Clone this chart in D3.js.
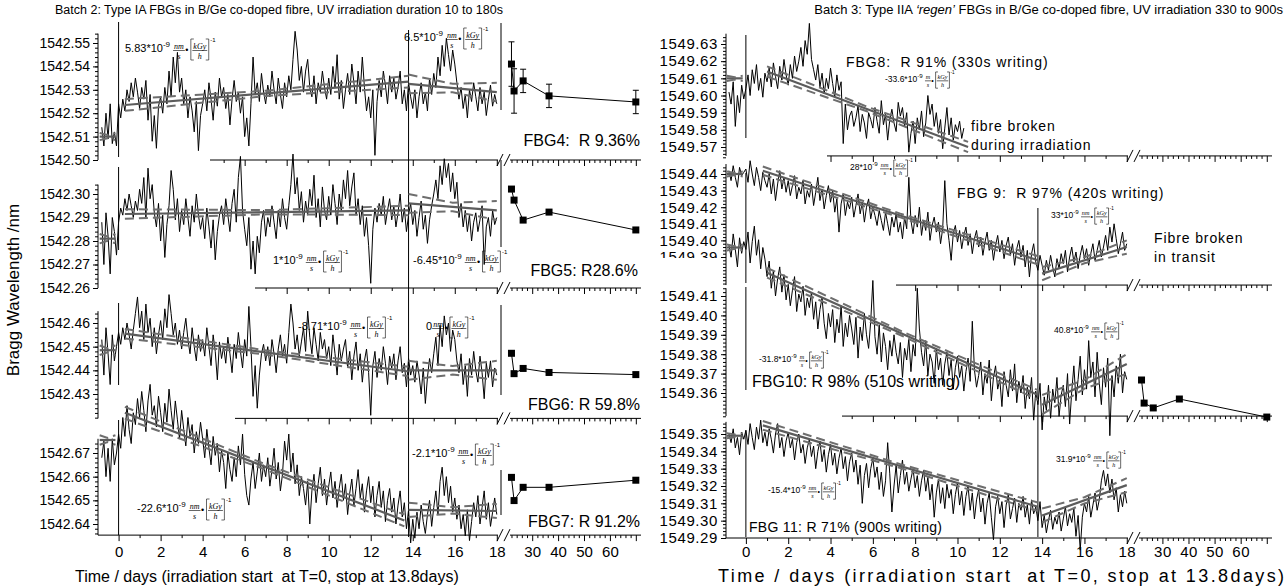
<!DOCTYPE html>
<html>
<head>
<meta charset="utf-8">
<script src="https://cdn.jsdelivr.net/npm/d3@7"></script>
<style>
body { margin: 0; background: #fff; }
svg { display: block; font-family: "Liberation Sans", Arial, sans-serif; }
text { white-space: pre; }
</style>
</head>
<body>
<svg id="chart" width="1288" height="588"></svg>
<script>
// sampling grid (days) shared by all traces
var tDays = [-0.8,-0.7,-0.6,-0.5,-0.4,-0.3,-0.2,-0.1,
0,0.1,0.2,0.3,0.4,0.5,0.6,0.7,0.8,0.9,
1,1.1,1.2,1.3,1.4,1.5,1.6,1.7,1.8,1.9,
2,2.1,2.2,2.3,2.4,2.5,2.6,2.7,2.8,2.9,
3,3.1,3.2,3.3,3.4,3.5,3.6,3.7,3.8,3.9,
4,4.1,4.2,4.3,4.4,4.5,4.6,4.7,4.8,4.9,
5,5.1,5.2,5.3,5.4,5.5,5.6,5.7,5.8,5.9,
6,6.1,6.2,6.3,6.4,6.5,6.6,6.7,6.8,6.9,
7,7.1,7.2,7.3,7.4,7.5,7.6,7.7,7.8,7.9,
8,8.1,8.2,8.3,8.4,8.5,8.6,8.7,8.8,8.9,
9,9.1,9.2,9.3,9.4,9.5,9.6,9.7,9.8,9.9,
10,10.1,10.2,10.3,10.4,10.5,10.6,10.7,10.8,10.9,
11,11.1,11.2,11.3,11.4,11.5,11.6,11.7,11.8,11.9,
12,12.1,12.2,12.3,12.4,12.5,12.6,12.7,12.8,12.9,
13,13.1,13.2,13.3,13.4,13.5,13.6,13.7,13.8,13.9,
14,14.1,14.2,14.3,14.4,14.5,14.6,14.7,14.8,14.9,
15,15.1,15.2,15.3,15.4,15.5,15.6,15.7,15.8,15.9,
16,16.1,16.2,16.3,16.4,16.5,16.6,16.7,16.8,16.9,
17,17.1,17.2,17.3,17.4,17.5,17.6,17.7,17.8,17.9,
18];

// wavelength shifts in pm above each grating's base wavelength
var fbg4 = [14,6,20,9,24,7,12,6,
24,18,26,21,30,25,33,27,35,29, 22,31,26,34,17,28,8,19,5,23,
27,20,31,24,38,27,44,33,46,29, 35,24,30,18,27,21,12,25,4,19,
24,30,21,33,26,17,29,23,35,27, 31,22,28,15,26,34,25,29,20,27,
10,18,6,24,44,28,33,25,37,29, 24,32,27,38,30,24,35,28,22,33,
27,36,30,43,55,47,34,40,29,38, 43,31,27,36,24,33,29,38,31,26,
35,28,40,31,45,26,34,22,30,37, 28,41,33,24,38,29,44,31,21,27,
18,30,2,25,34,27,38,32,24,36, 29,35,26,31,38,24,30,21,33,27,
22,30,18,27,33,24,29,21,35,28, 37,31,44,36,49,40,52,45,38,47,
41,33,26,31,22,28,18,30,25,33, 27,21,31,24,29,19,26,32,23,28, 24];
var fbg5 = [28,10,32,22,6,30,24,14,
28,34,31,38,33,40,35,30,37,33, 42,36,47,30,51,38,44,32,26,36,
20,31,13,27,35,50,42,29,38,24, 33,27,38,30,22,35,28,40,31,25,
30,21,34,26,17,29,12,24,31,35, 27,38,31,24,36,42,28,47,56,33,
25,18,30,8,20,6,22,15,28,33, 22,30,26,35,28,21,33,26,38,30,
25,35,44,57,40,47,33,41,28,37, 31,42,35,48,30,38,26,43,33,29,
39,31,44,36,27,40,33,46,38,50, 35,43,49,31,38,27,35,22,30,18,
2,25,34,28,36,31,39,27,33,38, 29,35,26,32,40,28,34,24,31,36,
27,33,22,30,37,25,31,19,29,35, 40,46,38,52,44,55,47,53,41,49,
38,45,30,36,26,33,24,31,20,28, 32,24,29,35,10,26,30,22,33,27, 30];
var fbg6 = [33,18,38,27,14,35,24,30,
36,31,38,33,40,35,29,37,44,51, 38,45,33,48,36,42,30,38,27,35,
41,33,46,38,52,44,35,40,31,37, 29,36,42,33,27,38,30,24,35,28,
33,26,38,30,22,35,28,16,32,25, 30,23,34,27,19,31,25,36,28,21,
33,26,47,30,9,22,4,18,27,31, 24,30,22,33,27,19,29,35,26,31,
23,36,48,40,29,35,26,32,38,28, 45,34,27,38,31,24,36,29,33,25,
30,22,35,27,18,31,24,29,33,21, 28,16,26,32,20,27,15,24,29,19,
1,22,28,17,25,20,30,23,14,26, 21,27,16,24,30,19,23,13,25,18,
22,15,24,18,10,21,6,17,25,19, 27,34,22,39,30,43,35,40,28,37,
33,24,19,27,14,22,9,25,18,28, 20,15,26,19,8,23,17,24,13,21, 18];
var fbg7 = [38,45,30,42,28,46,35,40,
48,42,55,47,60,50,44,57,52,63, 55,66,58,49,62,69,56,60,51,64,
57,49,61,53,67,58,50,62,54,46, 58,50,43,55,47,52,40,49,44,53,
46,38,50,42,35,47,39,44,32,41, 36,25,40,33,28,38,30,43,35,48,
31,22,18,29,36,25,32,40,28,35, 30,38,26,33,42,29,36,24,31,45,
37,48,32,40,27,35,22,30,25,18, 28,10,24,31,19,27,34,22,29,18,
26,32,21,28,17,25,31,20,27,14, 23,29,18,25,33,21,27,15,24,30,
19,26,13,22,28,17,24,11,20,25, 15,21,10,18,24,13,19,8,16,2,
12,4,15,8,18,11,6,14,20,9, 17,24,14,28,34,22,30,19,26,15,
21,12,18,8,14,5,16,3,11,19, 13,22,10,17,24,12,19,9,15,21, 14];
var fbg8 = [42,35,48,22,40,30,46,38,
44,52,40,55,47,58,43,50,39,53, 48,56,45,59,51,44,57,49,61,52,
46,58,50,63,54,60,68,57,72,64, 82,61,55,49,58,45,53,41,50,44,
56,47,39,52,43,48,12,35,20,28, 31,22,27,34,19,29,24,15,30,26,
21,33,25,18,37,23,29,14,26,32, 24,19,36,28,33,22,30,7,18,25,
12,27,20,31,16,24,40,29,35,22, 30,18,26,9,21,33,17,27,14,23,
19,25,15,21];
var fbg9 = [72,66,75,68,62,74,69,71,
73,65,78,70,63,74,68,60,71,66, 62,70,58,67,54,64,72,61,68,59,
66,57,63,69,55,62,58,66,52,60, 56,64,51,59,68,54,61,49,57,63,
53,60,47,55,35,52,58,45,53,49, 56,44,51,58,46,53,41,50,55,43,
50,45,39,48,42,36,47,40,33,44, 38,46,35,41,31,44,37,68,42,34,
45,38,50,33,42,36,47,30,39,44, 35,41,28,37,66,40,30,18,34,39,
29,36,25,33,38,27,34,22,31,36, 26,32,21,29,35,24,30,18,27,33,
23,30,19,27,32,21,28,15,25,30, 20,27,14,24,8,22,28,17,12,21,
15,9,18,12,21,14,8,19,13,22, 16,24,11,20,26,17,23,13,21,27,
19,25,15,22,28,18,24,30,20,26, 33,24,38,29,40,31,22,28,35,24, 28];
var fbg10 = [86,80,92,84,75,90,82,88,
84,93,77,88,96,81,89,74,85,79, 70,78,64,73,60,69,75,62,71,58,
66,55,63,70,52,61,57,65,50,59, 54,62,48,57,43,53,59,46,38,51,
44,53,36,48,41,55,34,46,39,50, 43,35,49,28,44,37,51,40,33,47,
68,39,30,45,26,41,34,22,37,29, 40,31,25,36,18,33,27,38,21,35,
29,64,43,31,24,37,19,30,26,15, 33,22,28,14,25,31,19,27,12,23,
29,18,24,11,21,28,16,47,22,13, 19,26,9,20,15,27,6,18,24,12,
17,3,21,14,8,22,11,25,5,16, 10,19,2,13,7,18,-4,11,4,15,
-9,8,1,14,-3,12,5,18,-2,9, 14,3,20,-6,11,24,6,17,29,9,
22,12,37,18,26,8,31,15,4,23, 13,28,-12,19,8,24,15,30,10,21, 17];
var fbg11 = [60,55,63,52,58,48,61,57,
62,54,66,58,51,64,57,68,55,61, 53,63,57,49,60,66,52,58,47,56,
61,52,57,45,55,60,49,54,43,52, 57,47,53,40,50,56,44,51,38,48,
54,42,49,37,46,52,40,47,33,44, 49,38,45,31,42,20,36,43,29,40,
46,35,41,28,38,24,33,55,37,15, 30,42,26,36,45,31,38,27,34,40,
29,36,24,33,39,27,35,22,31,12, 26,34,20,29,17,31,23,28,14,25,
32,19,27,13,24,30,16,26,11,22, 28,15,23,8,20,26,12,-1,18,24,
14,21,6,19,25,11,17,23,9,20, 16,24,12,19,8,22,14,18,10,21,
6,13,3,10,16,5,12,8,15,4, 11,18,7,14,9,17,1,13,-7,12,
20,15,24,12,19,26,16,22,33,39, 30,37,26,34,22,29,15,25,18,27, 20];

// later readings after the break (days, pm)
var laterDays = [22, 23, 26.5, 36.5, 70];
var later4 = [41, 29.5, 33.8, 27.4, 24.8];
var later4Err = [9.5, 9.5, 5, 5, 5];
var later5 = [42.1, 37.4, 28.9, 32.3, 24.7];
var later6 = [27.2, 18.6, 20.8, 19.1, 18.2];
var later7 = [29.7, 19.9, 25.5, 25.5, 28.5];
var later10 = [16.7, 4.8, 2.3, 6.9, -2.4];

// linear fits: [tStart, pmStart, tEnd, pmEnd, band]
var fits4 = [[-0.9,10,-0.15,10,1.5],[0.3,23.5,13.8,33.5,2.5],[13.8,32.5,18,29,4]];
var fits5 = [[-0.9,21,-0.15,21,2],[0.3,31.5,13.8,33,2],[13.8,36,18,33,4]];
var fits6 = [[-0.9,28.5,-0.15,28.5,2],[0.3,35.5,13.8,19.5,2],[13.8,20,18,20,4]];
var fits7 = [[-0.9,45.5,-0.15,45.5,2],[0.3,57,13.6,11.5,2.5],[13.8,16,18,15.5,3]];
var fits8 = [[-0.9,50,-0.15,50,1.5],[1.0,54,10.5,10,3]];
var fits9 = [[-0.9,70,-0.15,70,1.5],[0.8,72,13.8,18,2.5],[14,10,18,26,4]];
var fits10 = [[-0.9,85,-0.15,85,1.5],[1.0,72,13.8,9,2.5],[14,4,18,25,5]];
var fits11 = [[-0.9,59,-0.15,59,1.5],[0.8,65,13.8,18,2.5],[14,13,18,30.5,4]];

var mainTicks = [0,2,4,6,8,10,12,14,16,18];
var segTicks = [30,40,50,60];

var svg = d3.select('#chart');

// ---------- layout ----------
var charts = [
  { axisX: 98, x: d3.scaleLinear().domain([-0.98, 18.2]).range([98, 501]),
    seg: d3.scaleLinear().domain([19.5, 72]).range([505, 641]), segFrom: 510, breakX: 500,
    spacing: 0, t0Spans: [[22,157],[167,250],[303,385],[420,535]], stopSpan: [30,537],
    edgeSpans: [[23,110],[160,247],[305,395],[470,515]],
    panels: [
      { vals: fbg4, base: 1542.50, lo: [1542.50,160], hi: [1542.55,43], ticks: [1542.50,1542.51,1542.52,1542.53,1542.54,1542.55], bottom: 1542.50, top: 1542.554, lineFrom: 210, fits: fits4, later: later4, err: later4Err },
      { vals: fbg5, base: 1542.26, lo: [1542.26,288], hi: [1542.30,194], ticks: [1542.26,1542.27,1542.28,1542.29,1542.30], bottom: 1542.26, top: 1542.304, lineFrom: 255, fits: fits5, later: later5 },
      { vals: fbg6, base: 1542.42, lo: [1542.43,394], hi: [1542.46,323], ticks: [1542.43,1542.44,1542.45,1542.46], bottom: 1542.4197, top: 1542.465, lineFrom: 235, fits: fits6, later: later6 },
      { vals: fbg7, base: 1542.63, lo: [1542.64,524], hi: [1542.67,453], ticks: [1542.64,1542.65,1542.66,1542.67], bottom: 1542.6353, top: 1542.676, lineFrom: 98, fits: fits7, later: later7 }
    ] },
  { axisX: 726, x: d3.scaleLinear().domain([-0.94, 18.2]).range([726, 1131]),
    seg: d3.scaleLinear().domain([19.5, 72]).range([1135, 1272]), segFrom: 1139, breakX: 1130,
    spacing: 0.8, t0Spans: [[35,138],[173,283],[287,390],[430,537]], stopSpan: [208,537],
    edgeSpans: [],
    panels: [
      { vals: fbg8, base: 1549.56, lo: [1549.57,147], hi: [1549.63,44], ticks: [1549.57,1549.58,1549.59,1549.60,1549.61,1549.62,1549.63], bottom: 1549.5648, top: 1549.636, lineFrom: 827, fits: fits8 },
      { vals: fbg9, base: 1549.37, lo: [1549.39,257], hi: [1549.44,174], ticks: [1549.39,1549.40,1549.41,1549.42,1549.43,1549.44], bottom: 1549.3731, top: 1549.446, lineFrom: 896, fits: fits9 },
      { vals: fbg10, base: 1549.35, lo: [1549.36,393], hi: [1549.41,296], ticks: [1549.36,1549.37,1549.38,1549.39,1549.40,1549.41], bottom: 1549.3481, top: 1549.414, lineFrom: 842, fits: fits10, later: later10 },
      { vals: fbg11, base: 1549.29, lo: [1549.29,538], hi: [1549.35,434], ticks: [1549.29,1549.30,1549.31,1549.32,1549.33,1549.34,1549.35], bottom: 1549.29, top: 1549.357, lineFrom: 726, fits: fits11 }
    ] }
];

var axesLayer = svg.append('g');
var dataLayer = svg.append('g');
var fitLayer = svg.append('g');
var textLayer = svg.append('g');

charts.forEach(function (c) {
  c.panels.forEach(function (p, pi) {
    var y = d3.scaleLinear().domain([p.lo[0], p.hi[0]]).range([p.lo[1], p.hi[1]]);
    p.y = y;
    var yb = y(p.bottom);
    var isLast = pi === c.panels.length - 1;

    // y axis
    var ga = axesLayer.append('g').attr('transform', 'translate(' + c.axisX + ',0)');
    ga.append('line').attr('y1', yb).attr('y2', y(p.top)).attr('stroke', '#000');
    var minor = d3.range(Math.round(p.bottom * 500) / 500, p.top, 0.002);
    ga.append('g').call(d3.axisLeft(y).tickValues(minor).tickSize(3).tickFormat(''))
      .call(function (g) { g.select('.domain').remove(); });
    var ay = ga.append('g').call(d3.axisLeft(y).tickValues(p.ticks).tickSize(5).tickFormat(d3.format('.2f')))
      .call(function (g) { g.select('.domain').remove(); });
    ay.selectAll('text').attr('font-size', c.spacing ? 15 : 14).attr('letter-spacing', c.spacing ? 0.6 : 0)
      .attr('font-family', '"Liberation Sans", Arial, sans-serif').attr('fill', '#000');

    // bottom axis (main part)
    var gx = axesLayer.append('g').attr('transform', 'translate(0,' + yb + ')');
    gx.append('line').attr('x1', p.lineFrom).attr('x2', c.breakX - 2).attr('stroke', '#000');
    gx.append('line').attr('x1', c.segFrom).attr('x2', c.seg.range()[1]).attr('stroke', '#000');
    var majorT = mainTicks.filter(function (t) { return c.x(t) >= p.lineFrom; });
    var minorT = d3.range(-1, 19, 1).filter(function (t) { return t % 2 !== 0 && c.x(t) >= p.lineFrom && c.x(t) < c.breakX; });
    gx.append('g').call(d3.axisBottom(c.x).tickValues(minorT).tickSize(3).tickFormat(''))
      .call(function (g) { g.select('.domain').remove(); });
    var axMain = gx.append('g').call(d3.axisBottom(c.x).tickValues(majorT).tickSize(6)
      .tickFormat(isLast ? d3.format('d') : ''))
      .call(function (g) { g.select('.domain').remove(); });
    var segMinor = d3.range(20, 72, 2).filter(function (t) { return t % 10 !== 0; });
    gx.append('g').call(d3.axisBottom(c.seg).tickValues(segMinor).tickSize(3).tickFormat(''))
      .call(function (g) { g.select('.domain').remove(); });
    var axSeg = gx.append('g').call(d3.axisBottom(c.seg).tickValues(segTicks.concat([70])).tickSize(6)
      .tickFormat(function (d) { return isLast && d < 70 ? d : ''; }))
      .call(function (g) { g.select('.domain').remove(); });
    [axMain, axSeg].forEach(function (a) {
      a.selectAll('text').attr('font-size', 15).attr('dy', 0).attr('y', 557 - yb)
        .attr('letter-spacing', c.spacing ? 0.5 : 0)
        .attr('font-family', '"Liberation Sans", Arial, sans-serif').attr('fill', '#000');
    });
    // break marks
    [0, 7].forEach(function (dx) {
      gx.append('line').attr('x1', c.breakX - 3 + dx).attr('y1', 6).attr('x2', c.breakX + 3 + dx).attr('y2', -6)
        .attr('stroke', '#000').attr('stroke-width', 1);
    });

    // irradiation start marker
    var s0 = c.t0Spans[pi];
    axesLayer.append('line').attr('x1', c.x(0)).attr('x2', c.x(0)).attr('y1', s0[0]).attr('y2', s0[1]).attr('stroke', '#000');
    if (c.edgeSpans[pi]) {
      var se = c.edgeSpans[pi];
      axesLayer.append('line').attr('x1', c.x(18.2)).attr('x2', c.x(18.2)).attr('y1', se[0]).attr('y2', se[1]).attr('stroke', '#000');
    }

    // trace
    var pts = p.vals.map(function (v, i) { return [tDays[i], p.base + v / 1000]; });
    dataLayer.append('path').datum(pts)
      .attr('d', d3.line().x(function (d) { return c.x(d[0]); }).y(function (d) { return y(d[1]); }))
      .attr('fill', 'none').attr('stroke', '#000').attr('stroke-width', 1);

    // fits with dashed confidence band
    p.fits.forEach(function (f) {
      var P = function (t, v) { return [c.x(t), y(p.base + v / 1000)]; };
      var tm = (f[0] + f[2]) / 2, vm = (f[1] + f[3]) / 2;
      fitLayer.append('path').attr('d', d3.line()([P(f[0], f[1]), P(f[2], f[3])]))
        .attr('fill', 'none').attr('stroke', '#5c5c5c').attr('stroke-width', 2.2);
      [1, -1].forEach(function (s) {
        fitLayer.append('path')
          .attr('d', d3.line()([P(f[0], f[1] + s * f[4]), P(tm, vm + s * f[4] * 0.45), P(f[2], f[3] + s * f[4])]))
          .attr('fill', 'none').attr('stroke', '#6e6e6e').attr('stroke-width', 2).attr('stroke-dasharray', '9,5');
      });
    });

    // later readings
    if (p.later) {
      var lp = laterDays.map(function (d, i) { return [d, p.base + p.later[i] / 1000]; });
      dataLayer.append('path').datum(lp)
        .attr('d', d3.line().x(function (d) { return c.seg(d[0]); }).y(function (d) { return y(d[1]); }))
        .attr('fill', 'none').attr('stroke', '#000').attr('stroke-width', 1);
      if (p.err) {
        lp.forEach(function (d, i) {
          var e = p.err[i] / 1000, xx = c.seg(d[0]);
          dataLayer.append('path')
            .attr('d', 'M' + (xx - 3) + ',' + y(d[1] + e) + 'H' + (xx + 3) + 'M' + xx + ',' + y(d[1] + e) +
              'V' + y(d[1] - e) + 'M' + (xx - 3) + ',' + y(d[1] - e) + 'H' + (xx + 3))
            .attr('fill', 'none').attr('stroke', '#000');
        });
      }
      dataLayer.selectAll(null).data(lp).enter().append('rect')
        .attr('x', function (d) { return c.seg(d[0]) - 3.5; })
        .attr('y', function (d) { return y(d[1]) - 3.5; })
        .attr('width', 7).attr('height', 7).attr('fill', '#000');
    }
  });
  // irradiation stop marker
  axesLayer.append('line').attr('x1', c.x(13.8)).attr('x2', c.x(13.8))
    .attr('y1', c.stopSpan[0]).attr('y2', c.stopSpan[1]).attr('stroke', '#000');
});

// half-hidden tick label on the right chart
textLayer.append('rect').attr('x', 640).attr('y', 258).attr('width', 80).attr('height', 9).attr('fill', '#fff');

// ---------- annotations ----------
function frac(g, x, y, n, d, k) {
  var a = g.append('text').attr('font-family', '"Liberation Serif", serif').attr('font-style', 'italic')
    .attr('font-size', 8 * k).attr('y', y - 3.5 * k).text(n);
  var b = g.append('text').attr('font-family', '"Liberation Serif", serif').attr('font-style', 'italic')
    .attr('font-size', 8 * k).attr('y', y + 6.5 * k).text(d);
  var wa = a.node().getComputedTextLength(), wb = b.node().getComputedTextLength();
  var w = Math.max(wa, wb) + 2 * k;
  a.attr('x', x + (w - wa) / 2);
  b.attr('x', x + (w - wb) / 2);
  g.append('line').attr('x1', x).attr('x2', x + w).attr('y1', y - 1.5 * k).attr('y2', y - 1.5 * k)
    .attr('stroke', '#000').attr('stroke-width', 0.6);
  return x + w;
}

function rate(x, y, lead, exp, unit, fs) {
  var k = fs / 11;
  var g = textLayer.append('g');
  var a = g.append('text').attr('x', x).attr('y', y).attr('font-size', fs).text(lead);
  var cx = x + a.node().getComputedTextLength();
  if (exp) {
    var e = g.append('text').attr('x', cx).attr('y', y - 5 * k).attr('font-size', 8 * k).text(exp);
    cx += e.node().getComputedTextLength() + 3 * k;
  }
  cx = frac(g, cx, y, unit, 's', k);
  g.append('text').attr('x', cx + 0.5 * k).attr('y', y + 1 * k).attr('font-size', 9 * k).text('\u2022');
  cx += 6 * k;
  var top = y - 13 * k, bot = y + 8 * k;
  g.append('path').attr('d', 'M' + (cx + 3 * k) + ',' + top + 'H' + cx + 'V' + bot + 'H' + (cx + 3 * k))
    .attr('fill', 'none').attr('stroke', '#000').attr('stroke-width', 0.6);
  cx = frac(g, cx + 1.5 * k, y, 'kGy', 'h', k) + 1.5 * k;
  g.append('path').attr('d', 'M' + (cx - 3 * k) + ',' + top + 'H' + cx + 'V' + bot + 'H' + (cx - 3 * k))
    .attr('fill', 'none').attr('stroke', '#000').attr('stroke-width', 0.6);
  g.append('text').attr('x', cx + 1.5 * k).attr('y', top + 3 * k).attr('font-size', 6 * k).text('-1');
}

rate(125, 52, '5.83*10', '-9', 'nm', 11);
rate(404, 41, '6.5*10', '-9', 'nm', 11);
rate(273, 264, '1*10', '-9', 'nm', 11);
rate(413, 264, '-6.45*10', '-9', 'nm', 11);
rate(298, 330, '-8.71*10', '-9', 'nm', 11);
rate(426, 330, '0', null, 'nm', 11);
rate(412, 457, '-2.1*10', '-9', 'nm', 11);
rate(137, 512, '-22.6*10', '-9', 'nm', 11);

rate(885, 82, '-33.6*10', '-9', 'm', 8.5);
rate(850, 170, '28*10', '-9', 'nm', 8.5);
rate(1051, 218, '33*10', '-9', 'nm', 8.5);
rate(759, 362, '-31.8*10', '-9', 'm', 8.5);
rate(1054, 333, '40.8*10', '-9', 'nm', 8.5);
rate(1056, 462, '31.9*10', '-9', 'nm', 8.5);
rate(768, 493, '-15.4*10', '-9', 'nm', 8.5);

function label(x, y, s, fs, anchor, ls) {
  return textLayer.append('text').attr('x', x).attr('y', y).attr('font-size', fs)
    .attr('text-anchor', anchor || 'start').attr('letter-spacing', ls || 0).text(s);
}
label(640, 146, 'FBG4:  R 9.36%', 16, 'end');
label(638, 276, 'FBG5: R28.6%', 16, 'end');
label(640, 410, 'FBG6: R 59.8%', 16, 'end');
label(640, 527, 'FBG7: R 91.2%', 16, 'end');

label(846, 67, 'FBG8:  R 91% (330s writing)', 14, 'start', 0.9);
label(971, 131, 'fibre broken', 14, 'start', 0.9);
label(971, 150, 'during irradiation', 14, 'start', 0.9);
label(957, 198, 'FBG 9:  R 97% (420s writing)', 14, 'start', 0.9);
label(1154, 243, 'Fibre broken', 14, 'start', 0.9);
label(1154, 262, 'in transit', 14, 'start', 0.9);
label(752, 387, 'FBG10: R 98% (510s writing)', 16, 'start', 0);
label(749, 532, 'FBG 11: R 71% (900s writing)', 14, 'start', 0.3);

// titles
label(55, 14, 'Batch 2: Type IA FBGs in B/Ge co-doped fibre, UV irradiation duration 10 to 180s', 12.5, 'start');
var t3 = label(1283, 14, '', 13, 'end');
t3.append('tspan').text('Batch 3: Type IIA ');
t3.append('tspan').attr('font-style', 'italic').text('\u2018regen\u2019');
t3.append('tspan').text(' FBGs in B/Ge co-doped fibre, UV irradiation 330 to 900s');

label(75, 582, 'Time / days (irradiation start  at T=0, stop at 13.8days)', 16, 'start');
label(718, 582, 'Time / days (irradiation start  at T=0, stop at 13.8days)', 18, 'start', 2.4);
textLayer.append('text').attr('transform', 'translate(19,290) rotate(-90)').attr('text-anchor', 'middle')
  .attr('font-size', 17).text('Bragg Wavelength /nm');
</script>
</body>
</html>
